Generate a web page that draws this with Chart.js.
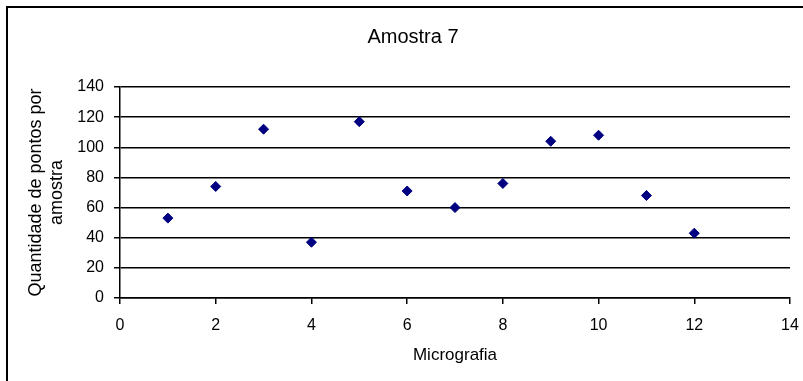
<!DOCTYPE html>
<html><head><meta charset="utf-8">
<script src="https://cdn.jsdelivr.net/npm/chart.js@4/dist/chart.umd.min.js"></script>
<style>html,body{margin:0;padding:0;background:#fff;}#c{display:block;}</style>
</head><body>
<canvas id="c" width="803" height="381"></canvas>
<script>
const chartTitle = 'Amostra 7';
const xTitle = 'Micrografia';
const yTitle = ['Quantidade de pontos por', 'amostra'];
const micrografia = [1, 2, 3, 4, 5, 6, 7, 8, 9, 10, 11, 12];
const pontos = [53, 74, 112, 37, 117, 71, 60, 76, 104, 108, 68, 43];
const xMin = 0, xMax = 14, xStep = 2;
const yMin = 0, yMax = 140, yStep = 20;

const FONT = '"Liberation Sans", Arial, sans-serif';

const frame = {
  id: 'frame',
  beforeDraw(chart) {
    const ctx = chart.ctx;
    ctx.save();
    ctx.fillStyle = '#fff';
    ctx.fillRect(0, 0, chart.width, chart.height);
    ctx.strokeStyle = '#000';
    ctx.lineWidth = 2;
    ctx.strokeRect(7, 7, chart.width + 20, chart.height + 20);
    ctx.restore();
  }
};

new Chart(document.getElementById('c'), {
  type: 'scatter',
  data: {
    datasets: [{
      data: micrografia.map((x, i) => ({ x: x, y: pontos[i] })),
      pointStyle: 'rectRot',
      pointRadius: 5,
      backgroundColor: '#000080',
      borderColor: '#000080',
      borderWidth: 1
    }]
  },
  options: {
    responsive: false,
    animation: false,
    devicePixelRatio: 1,
    layout: { padding: { left: 23, right: 0, top: 0, bottom: 0 } },
    plugins: {
      legend: { display: false },
      tooltip: { enabled: false },
      title: {
        display: true, text: chartTitle, color: '#000',
        font: { family: FONT, size: 20, weight: 'normal', lineHeight: 1.2 },
        padding: { top: 25.5, bottom: 37.5 }
      }
    },
    scales: {
      x: {
        type: 'linear', min: xMin, max: xMax,
        ticks: { stepSize: xStep, color: '#000', font: { family: FONT, size: 16 }, padding: 12, maxRotation: 0 },
        grid: { drawOnChartArea: false, drawTicks: true, tickLength: 6, color: '#000', lineWidth: 1.5 },
        border: { display: true, color: '#000', width: 1.5 },
        title: { display: true, text: xTitle, color: '#000', font: { family: FONT, size: 17, lineHeight: 1.2 }, padding: { top: 0, bottom: 15 } },
        afterFit(s) { s.height = 83; s.paddingLeft = 0; s.paddingRight = 0; }
      },
      y: {
        type: 'linear', min: yMin, max: yMax,
        ticks: { stepSize: yStep, color: '#000', font: { family: FONT, size: 16 }, padding: 10 },
        grid: { drawOnChartArea: true, drawTicks: true, tickLength: 6, color: '#000', lineWidth: 1.5 },
        border: { display: true, color: '#000', width: 1.5 },
        title: { display: true, text: yTitle, color: '#000', font: { family: FONT, size: 18, lineHeight: 1.15 }, padding: { top: 3, bottom: 0 } },
        afterFit(s) { s.width = 97; }
      },
      yR: {
        type: 'linear', position: 'right', display: true,
        grid: { display: false }, ticks: { display: false }, border: { display: false },
        afterFit(s) { s.width = 13; }
      }
    }
  },
  plugins: [frame]
});
</script>
</body></html>
